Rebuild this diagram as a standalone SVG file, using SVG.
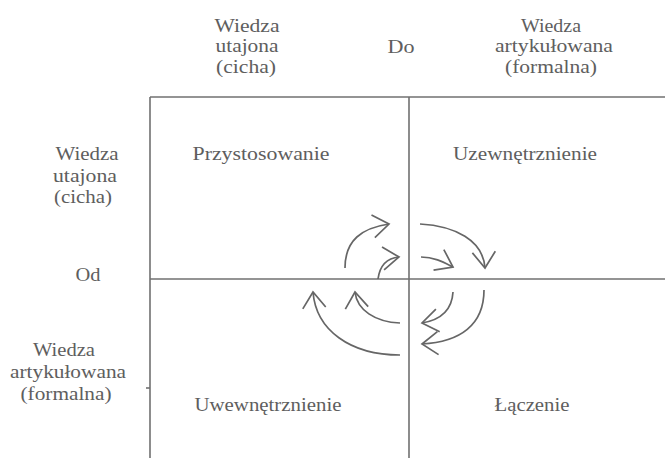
<svg xmlns="http://www.w3.org/2000/svg" width="665" height="458" viewBox="0 0 665 458">
<style>
  text { font-family: "Liberation Serif", "DejaVu Serif", "Times New Roman", serif; font-size: 18px; fill: #5e5e5e; text-anchor: middle; }
  .grid { stroke: #707070; stroke-width: 1.6; fill: none; }
  .arr { stroke: #666; stroke-width: 1.7; fill: none; marker-end: url(#head); }
</style>
<defs>
  <marker id="head" viewBox="-20 -15 24 30" refX="0" refY="0" markerWidth="24" markerHeight="30" markerUnits="userSpaceOnUse" orient="auto">
    <path d="M-16,-11.5 L0,0 L-16,11.5" fill="none" stroke="#666" stroke-width="1.7"/>
  </marker>
</defs>

<g id="grid">
  <line class="grid" x1="150" y1="97" x2="665" y2="97"/>
  <line class="grid" x1="150" y1="279" x2="665" y2="279"/>
  <line class="grid" x1="150" y1="97" x2="150" y2="458"/>
  <line class="grid" x1="409" y1="97" x2="409" y2="458"/>
  <line class="grid" x1="146" y1="388" x2="150" y2="388"/>
</g>

<g id="header-top-left">
  <text x="247" y="32" textLength="65" lengthAdjust="spacingAndGlyphs">Wiedza</text>
  <text x="247" y="52" textLength="63" lengthAdjust="spacingAndGlyphs">utajona</text>
  <text x="246" y="73" textLength="60" lengthAdjust="spacingAndGlyphs">(cicha)</text>
</g>
<g id="header-do">
  <text x="401" y="53" textLength="27" lengthAdjust="spacingAndGlyphs">Do</text>
</g>
<g id="header-top-right">
  <text x="551" y="32" textLength="60" lengthAdjust="spacingAndGlyphs">Wiedza</text>
  <text x="554" y="52" textLength="118" lengthAdjust="spacingAndGlyphs">artykułowana</text>
  <text x="551" y="73" textLength="92" lengthAdjust="spacingAndGlyphs">(formalna)</text>
</g>

<g id="header-left-top">
  <text x="87" y="160" textLength="63" lengthAdjust="spacingAndGlyphs">Wiedza</text>
  <text x="85" y="182" textLength="64" lengthAdjust="spacingAndGlyphs">utajona</text>
  <text x="83" y="203" textLength="58" lengthAdjust="spacingAndGlyphs">(cicha)</text>
</g>
<g id="header-od">
  <text x="88" y="281" textLength="25" lengthAdjust="spacingAndGlyphs">Od</text>
</g>
<g id="header-left-bottom">
  <text x="64" y="356" textLength="62" lengthAdjust="spacingAndGlyphs">Wiedza</text>
  <text x="68" y="378" textLength="116" lengthAdjust="spacingAndGlyphs">artykułowana</text>
  <text x="66" y="400" textLength="91" lengthAdjust="spacingAndGlyphs">(formalna)</text>
</g>

<g id="q-przystosowanie">
  <text x="261" y="160" textLength="137" lengthAdjust="spacingAndGlyphs">Przystosowanie</text>
</g>
<g id="q-uzewnetrznienie">
  <text x="525" y="160" textLength="144" lengthAdjust="spacingAndGlyphs">Uzewnętrznienie</text>
</g>
<g id="q-uwewnetrznienie">
  <text x="268" y="411" textLength="147" lengthAdjust="spacingAndGlyphs">Uwewnętrznienie</text>
</g>
<g id="q-laczenie">
  <text x="532" y="411" textLength="75" lengthAdjust="spacingAndGlyphs">Łączenie</text>
</g>

<g id="connectors">
  <path class="arr" d="M345,268 C345,240 362,228 389,224"/>
  <path class="arr" d="M378,279 C380,264 388,258 399,257"/>
  <path class="arr" d="M420,224 C455,226 483,240 485,268"/>
  <path class="arr" d="M421,257 C435,257 445,263 453,267"/>
  <path class="arr" d="M453,292 C452,310 440,320 422,323"/>
  <path class="arr" d="M484,290 C484,325 460,342 422,344"/>
  <path class="arr" d="M400,323 C375,322 357,310 355,292"/>
  <path class="arr" d="M400,355 C350,355 316,330 313,292"/>
</g>
</svg>
